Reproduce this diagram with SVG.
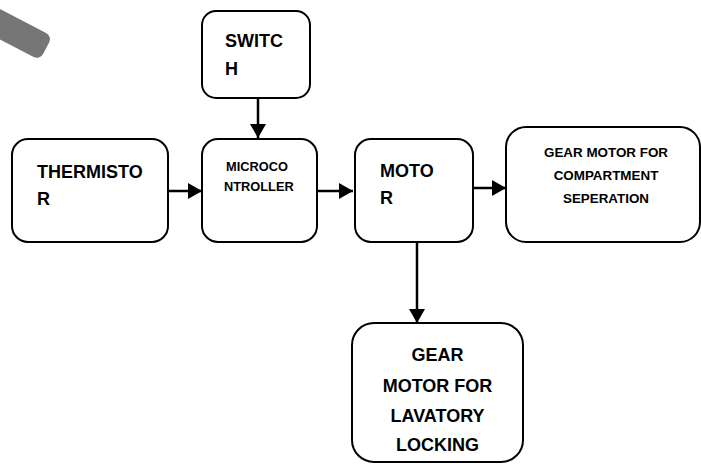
<svg xmlns="http://www.w3.org/2000/svg" width="701" height="464" viewBox="0 0 701 464">
  <style>
    .box { fill: #ffffff; stroke: #000000; stroke-width: 2; }
    .lbl { font-family: "Liberation Sans", Arial, sans-serif; font-weight: bold; fill: #000000; }
    .big { font-size: 18px; }
    .small { font-size: 12.8px; }
    .mid { font-size: 13.4px; }
    .wire { stroke: #000000; stroke-width: 2.5; fill: none; marker-end: url(#head); }
  </style>
  <defs>
    <marker id="head" viewBox="0 0 14 16" refX="14" refY="8" markerWidth="14" markerHeight="16" markerUnits="userSpaceOnUse" orient="auto">
      <path d="M0,0 L14,8 L0,16 Z" fill="#000000"/>
    </marker>
  </defs>
  <rect width="701" height="464" fill="#ffffff"/>

  <!-- grey bar in the top-left corner -->
  <rect x="-60" y="0" width="119" height="27" rx="7" fill="#767676" transform="translate(0,9) rotate(27.5)"/>

  <g id="switch">
    <rect class="box" x="202" y="11" width="108" height="87" rx="14"/>
    <text class="lbl big" x="225" y="47">SWITC</text>
    <text class="lbl big" x="225" y="75">H</text>
  </g>

  <g id="thermistor">
    <rect class="box" x="12" y="139" width="156" height="103" rx="16"/>
    <text class="lbl big" x="37" y="178">THERMISTO</text>
    <text class="lbl big" x="37" y="205">R</text>
  </g>

  <g id="microcontroller">
    <rect class="box" x="202" y="139" width="115" height="103" rx="16"/>
    <text class="lbl small" x="226" y="171">MICROCO</text>
    <text class="lbl small" x="224" y="191">NTROLLER</text>
  </g>

  <g id="motor">
    <rect class="box" x="355" y="139" width="118" height="103" rx="16"/>
    <text class="lbl big" x="380" y="177">MOTO</text>
    <text class="lbl big" x="380" y="204">R</text>
  </g>

  <g id="gear-compartment">
    <rect class="box" x="506" y="127" width="194" height="115" rx="20"/>
    <text class="lbl mid" x="606" y="157" text-anchor="middle">GEAR MOTOR FOR</text>
    <text class="lbl mid" x="606" y="180" text-anchor="middle">COMPARTMENT</text>
    <text class="lbl mid" x="606" y="203" text-anchor="middle">SEPERATION</text>
  </g>

  <g id="gear-lavatory">
    <rect class="box" x="352" y="323" width="171" height="139" rx="22"/>
    <text class="lbl big" x="437.5" y="361" text-anchor="middle">GEAR</text>
    <text class="lbl big" x="437.5" y="392" text-anchor="middle">MOTOR FOR</text>
    <text class="lbl big" x="437.5" y="422" text-anchor="middle">LAVATORY</text>
    <text class="lbl big" x="437.5" y="451" text-anchor="middle">LOCKING</text>
  </g>

  <g id="connectors">
    <line class="wire" x1="258" y1="98" x2="258" y2="138"/>
    <line class="wire" x1="168" y1="191" x2="202" y2="191"/>
    <line class="wire" x1="317" y1="191" x2="353" y2="191"/>
    <line class="wire" x1="473" y1="188" x2="506" y2="188"/>
    <line class="wire" x1="417" y1="242" x2="417" y2="323"/>
  </g>
</svg>
